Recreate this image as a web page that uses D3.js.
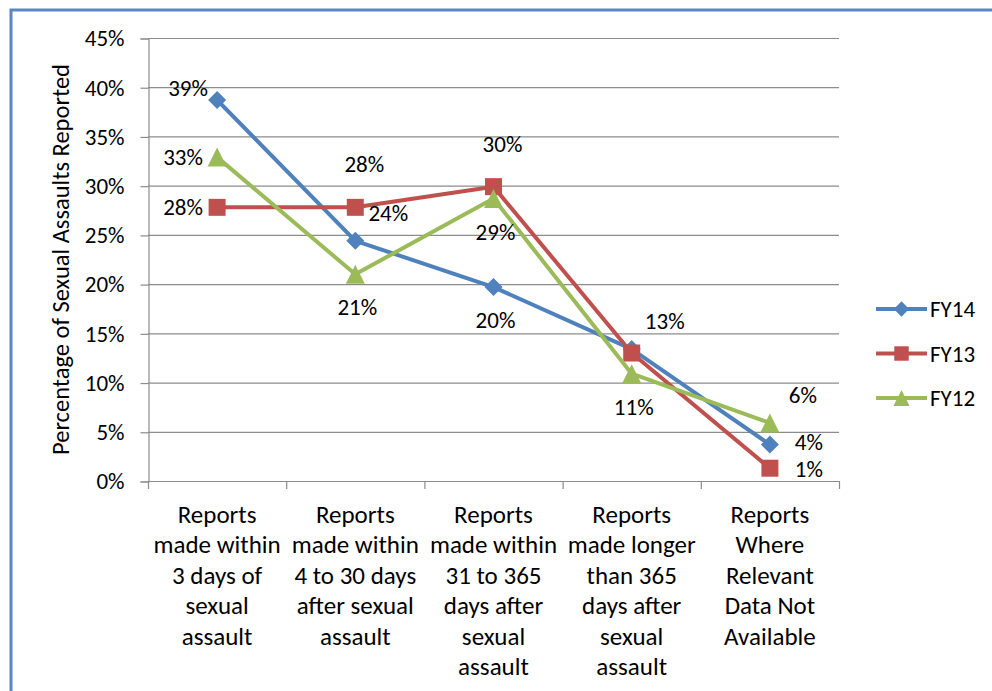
<!DOCTYPE html>
<html>
<head>
<meta charset="utf-8">
<script src="https://cdn.jsdelivr.net/npm/d3@7"></script>
<style>
  html, body { margin: 0; padding: 0; background: #fff; }
  svg { display: block; font-family: Carlito, Lato, "Liberation Sans", sans-serif; }
</style>
</head>
<body>
<svg id="chart" width="992" height="691"></svg>
<script>
// ---- data ----
const categories = [
  "Reports\nmade within\n3 days of\nsexual\nassault",
  "Reports\nmade within\n4 to 30 days\nafter sexual\nassault",
  "Reports\nmade within\n31 to 365\ndays after\nsexual\nassault",
  "Reports\nmade longer\nthan 365\ndays after\nsexual\nassault",
  "Reports\nWhere\nRelevant\nData Not\nAvailable"
];
const seriesNames = ["FY14", "FY13", "FY12"];
const fy14 = [38.7, 24.4, 19.7, 13.4, 3.7];
const fy13 = [27.8, 27.8, 29.9, 13.0, 1.3];
const fy12 = [32.9, 21.0, 28.7, 10.9, 5.9];
const yTicks = [0, 5, 10, 15, 20, 25, 30, 35, 40, 45];
const yTitle = "Percentage of Sexual Assaults Reported";
// label placement keywords per point (null = label hidden)
const fy14LabelPos = ["upLeft", "upRight", "below", "upRight", "rightUp"];
const fy13LabelPos = ["left", "above", "above", null, "rightDown"];
const fy12LabelPos = ["left", "below", "below", "below", "upRight"];

// ---- styles ----
const colors = { FY14: "#4F81BD", FY13: "#C0504D", FY12: "#9BBB59" };
const shapes = { FY14: "diamond", FY13: "square", FY12: "triangle" };
const series = [
  { name: "FY14", values: fy14, pos: fy14LabelPos },
  { name: "FY13", values: fy13, pos: fy13LabelPos },
  { name: "FY12", values: fy12, pos: fy12LabelPos }
];
const labelOffsets = {
  left: [-34, 0], upLeft: [-29, -12], above: [9, -43],
  upRight: [33, -28], below: [2, 33], rightUp: [39, -3], rightDown: [39, 1]
};
const numSize = 23;
const catSize = 25;

const svg = d3.select("#chart");
const margin = { left: 148, right: 839, top: 38, bottom: 481 };

// frame border
svg.append("rect")
  .attr("x", 11).attr("y", 10).attr("width", 1100).attr("height", 900)
  .attr("fill", "none").attr("stroke", "#5B86C2").attr("stroke-width", 3);

const x = d3.scaleBand().domain(d3.range(categories.length))
  .range([margin.left, margin.right]).padding(0);
const y = d3.scaleLinear().domain([0, 45]).range([margin.bottom, margin.top]);

// gridlines
svg.append("g").selectAll("line").data(yTicks.filter(d => d > 0)).join("line")
  .attr("x1", margin.left).attr("x2", margin.right)
  .attr("y1", d => y(d) + 0.5).attr("y2", d => y(d) + 0.5)
  .attr("stroke", "#8C8C8C").attr("stroke-width", 1.2);

// y axis
const yAxis = d3.axisLeft(y).tickValues(yTicks).tickSize(8).tickPadding(16)
  .tickFormat(d => d + "%");
const gy = svg.append("g").attr("transform", `translate(${margin.left + 0.5},0.5)`).call(yAxis);
gy.select(".domain").attr("stroke", "#8C8C8C").attr("stroke-width", 1.2);
gy.selectAll(".tick line").attr("stroke", "#8C8C8C").attr("stroke-width", 1.2);
gy.selectAll(".tick text").attr("font-size", numSize).attr("fill", "#000")
  .attr("font-family", "Carlito, Lato, 'Liberation Sans', sans-serif");

// x axis baseline and ticks at category boundaries
const gx = svg.append("g");
gx.append("line").attr("x1", margin.left).attr("x2", margin.right)
  .attr("y1", margin.bottom + 0.5).attr("y2", margin.bottom + 0.5)
  .attr("stroke", "#8C8C8C").attr("stroke-width", 1.2);
const bounds = d3.range(categories.length + 1).map(i =>
  i < categories.length ? x(i) : x(categories.length - 1) + x.bandwidth());
gx.selectAll("line.tk").data(bounds).join("line").attr("class", "tk")
  .attr("x1", d => d + 0.5).attr("x2", d => d + 0.5)
  .attr("y1", margin.bottom).attr("y2", margin.bottom + 8)
  .attr("stroke", "#8C8C8C").attr("stroke-width", 1.2);

// category labels
const catText = gx.selectAll("text.cat").data(categories).join("text").attr("class", "cat")
  .attr("text-anchor", "middle").attr("font-size", catSize).attr("fill", "#000");
catText.each(function (d, i) {
  const t = d3.select(this);
  d.split("\n").forEach((line, j) => {
    t.append("tspan").attr("x", x(i) + x.bandwidth() / 2)
      .attr("y", 514 + j * 30.5).attr("dy", "0.35em").text(line);
  });
});

// y axis title
svg.append("text")
  .attr("transform", `translate(60,${(margin.top + margin.bottom) / 2}) rotate(-90)`)
  .attr("text-anchor", "middle").attr("dy", "0.35em")
  .attr("font-size", 24.5).attr("fill", "#000").text(yTitle);

// marker path generator
function markerPath(shape, s) {
  if (shape === "diamond") { const h = 9 * s; return `M0,${-h}L${h},0L0,${h}L${-h},0Z`; }
  if (shape === "square") { const h = 8.5 * s; return `M${-h},${-h}H${h}V${h}H${-h}Z`; }
  const w = 9.5 * s, hh = 9.5 * s; return `M0,${-hh}L${w},${hh}H${-w}Z`;
}

const cx = i => x(i) + x.bandwidth() / 2;
const line = d3.line().x((d, i) => cx(i)).y(d => y(d));

series.forEach(s => {
  const g = svg.append("g");
  g.append("path").datum(s.values).attr("d", line)
    .attr("fill", "none").attr("stroke", colors[s.name]).attr("stroke-width", 4)
    .attr("stroke-linejoin", "round");
  g.selectAll("path.m").data(s.values).join("path").attr("class", "m")
    .attr("transform", (d, i) => `translate(${cx(i)},${y(d)})`)
    .attr("d", markerPath(shapes[s.name], 1))
    .attr("fill", colors[s.name]);
});

// data labels
const fmt = d => Math.round(d) + "%";
series.forEach(s => {
  svg.append("g").selectAll("text").data(s.values.map((v, i) => ({ v, i, p: s.pos[i] })).filter(d => d.p))
    .join("text")
    .attr("x", d => cx(d.i) + labelOffsets[d.p][0])
    .attr("y", d => y(d.v) + labelOffsets[d.p][1])
    .attr("dy", "0.35em").attr("text-anchor", "middle")
    .attr("font-size", numSize).attr("fill", "#000")
    .text(d => fmt(d.v));
});

// legend
const legend = svg.append("g");
series.forEach((s, k) => {
  const ly = 309 + k * 44.5;
  legend.append("line").attr("x1", 876).attr("x2", 927).attr("y1", ly).attr("y2", ly)
    .attr("stroke", colors[s.name]).attr("stroke-width", 4);
  legend.append("path").attr("transform", `translate(901.5,${ly})`)
    .attr("d", markerPath(shapes[s.name], 0.85)).attr("fill", colors[s.name]);
  legend.append("text").attr("x", 930).attr("y", ly).attr("dy", "0.35em")
    .attr("font-size", 23).attr("fill", "#000").text(s.name);
});
</script>
</body>
</html>
